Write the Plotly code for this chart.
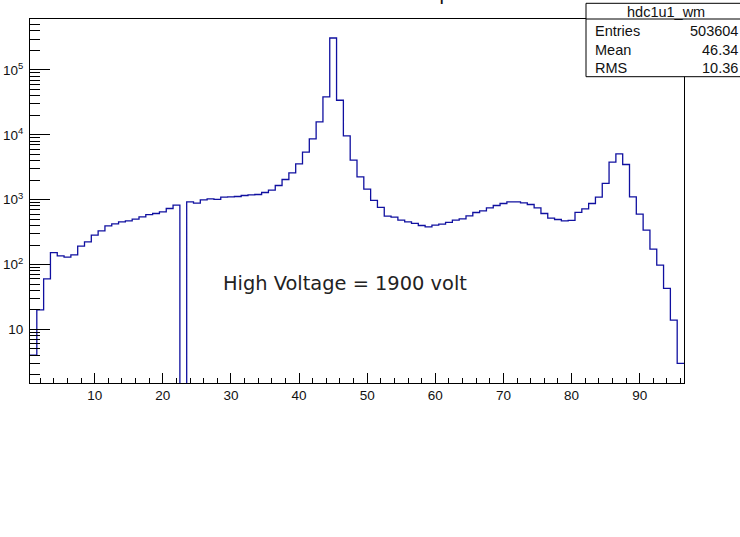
import plotly.graph_objects as go

# ---- data (bin contents of hdc1u1_wm, bins centred on 1..96) ----
bin_centers = list(range(1, 97))
counts = [
    4, 20, 60, 153, 136, 130, 141, 192, 224, 284,
    331, 394, 424, 455, 471, 501, 543, 590, 612, 648,
    731, 822, 0, 925, 883, 993, 1029, 1007, 1092, 1105,
    1120, 1160, 1185, 1202, 1291, 1400, 1655, 2048, 2590, 3560,
    5400, 8650, 15800, 38400, 311000, 34100, 9620, 4060, 2245, 1452,
    972, 759, 557, 537, 483, 455, 430, 400, 381, 405,
    419, 445, 483, 506, 562, 634, 673, 748, 813, 873,
    925, 925, 893, 843, 748, 612, 519, 495, 471, 478,
    635, 721, 873, 1092, 1778, 3787, 5080, 3484, 1105, 598,
    339, 173, 98, 42.9, 13.9, 3.0,
]
x_ticks = [10, 20, 30, 40, 50, 60, 70, 80, 90]
y_tickvals = [10, 100, 1000, 10000, 100000]
y_ticktext = ["10", "10<sup>2</sup>", "10<sup>3</sup>", "10<sup>4</sup>", "10<sup>5</sup>"]
stats_name = "hdc1u1_wm"
stats_rows = [("Entries", "503604"), ("Mean", "46.34"), ("RMS", "10.36")]
label_text = "High Voltage = 1900 volt"

# step outline built from bin edges
edges = [c - 0.5 for c in bin_centers] + [bin_centers[-1] + 0.5]
floor = 1e-3
y_step = [c if c > 0 else floor for c in counts]
y_step = y_step + [y_step[-1]]

fig = go.Figure()
fig.add_trace(go.Scatter(
    x=edges, y=y_step, mode="lines", line_shape="hv",
    line=dict(color="#1010a0", width=1.3), hoverinfo="skip", showlegend=False,
))

minor_y = [d * 10 ** k for k in range(0, 6) for d in range(2, 10)]

FONT = "Liberation Sans, Arial, sans-serif"
fig.update_layout(
    width=740, height=537,
    margin=dict(l=30, r=56, t=19, b=154),
    paper_bgcolor="white", plot_bgcolor="white",
    showlegend=False,
    font=dict(family=FONT, size=13, color="#111"),
)
fig.update_xaxes(
    range=[0.5, 96.5], showgrid=False, zeroline=False, automargin=False,
    showline=True, linecolor="black", linewidth=1, mirror=True,
    ticks="inside", ticklen=10, tickcolor="black", tickwidth=1,
    tickmode="array", tickvals=x_ticks, ticktext=[str(v) for v in x_ticks],
    minor=dict(ticks="inside", ticklen=5, tickcolor="black", dtick=2, tick0=0, showgrid=False),
    tickfont=dict(family=FONT, size=13.5, color="#111"),
)
fig.update_yaxes(
    type="log", range=[0.173, 5.786], showgrid=False, zeroline=False, automargin=False,
    showline=True, linecolor="black", linewidth=1, mirror=True,
    ticks="inside", ticklen=20, tickcolor="black", tickwidth=1,
    tickmode="array", tickvals=y_tickvals, ticktext=y_ticktext,
    minor=dict(ticks="inside", ticklen=10, tickcolor="black", tickmode="array",
               tickvals=minor_y, showgrid=False),
    tickfont=dict(family=FONT, size=13.5, color="#111"),
    ticklabelstandoff=3,
)

# pixel -> paper helpers for the overlay items
PL, PR, PT, PB = 30, 684, 19, 383
def px(x):
    return (x - PL) / (PR - PL)
def py(y):
    return (PB - y) / (PB - PT)

# stats box
fig.add_shape(type="rect", xref="paper", yref="paper",
              x0=px(586), x1=px(748), y0=py(76.7), y1=py(3.3),
              line=dict(color="black", width=1), fillcolor="white", layer="above")
fig.add_shape(type="line", xref="paper", yref="paper",
              x0=px(586), x1=px(748), y0=py(19), y1=py(19),
              line=dict(color="black", width=1), layer="above")
fig.add_annotation(xref="paper", yref="paper", x=px(666), y=py(11.5),
                   text=stats_name, showarrow=False, xanchor="center", yanchor="middle",
                   font=dict(family=FONT, size=14.5, color="#111"))
for i, (k, v) in enumerate(stats_rows):
    yy = py(31.5 + 18.3 * i)
    fig.add_annotation(xref="paper", yref="paper", x=px(593), y=yy, text=k,
                       showarrow=False, xanchor="left", yanchor="middle",
                       font=dict(family=FONT, size=14.5, color="#111"))
    fig.add_annotation(xref="paper", yref="paper", x=px(740), y=yy, text=v,
                       showarrow=False, xanchor="right", yanchor="middle",
                       font=dict(family=FONT, size=14.5, color="#111"))

# in-plot label
fig.add_annotation(xref="paper", yref="paper", x=px(221), y=py(283.5), text=label_text,
                   showarrow=False, xanchor="left", yanchor="middle",
                   font=dict(family="DejaVu Sans, sans-serif", size=19.4, color="#222"))

# title (mostly cut off above the page, only a descender shows)
fig.add_annotation(xref="paper", yref="paper", x=px(453), y=py(6), text="Wire map",
                   showarrow=False, xanchor="right", yanchor="bottom",
                   font=dict(family=FONT, size=20, color="#111"))

fig.write_html("out.html")
